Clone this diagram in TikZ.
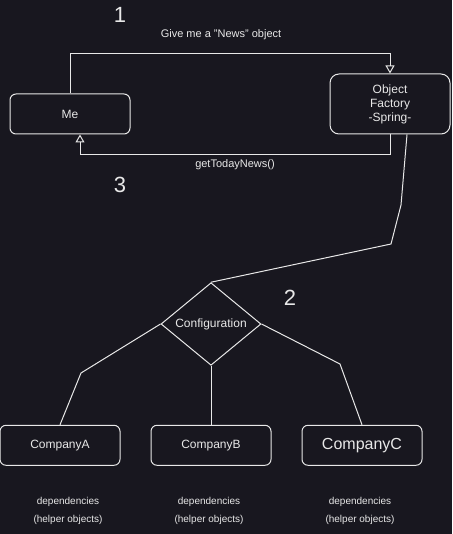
\documentclass[tikz,border=0pt]{standalone}
\usepackage{fontspec}
\setmainfont{Liberation Sans}
\usetikzlibrary{arrows.meta,positioning,shapes.geometric,calc}
\definecolor{bgcolor}{RGB}{24,23,31}
\definecolor{fgcolor}{RGB}{232,232,232}
\def \companyGap {30pt}
\def \configDrop {59pt}
\def \depsDrop {31pt}
\def \depsShift {8pt}
\tikzset{
	box/.style= {draw=fgcolor, line width=1pt, rectangle, rounded corners=6pt, align=center, minimum width=120pt, minimum height=40pt, text=fgcolor, font=\fontsize{12}{14}\selectfont},
	factorybox/.style= {box, rounded corners=9pt, minimum height=60pt},
	choice/.style= {draw=fgcolor, line width=1pt, diamond, inner sep=0pt, minimum width=100pt, minimum height=80pt, text=fgcolor, font=\fontsize{12}{14}\selectfont},
	stepnum/.style= {text=fgcolor, inner sep=0pt, font=\fontsize{22}{26}\selectfont},
	msg/.style= {text=fgcolor, inner sep=0pt, font=\fontsize{11}{13}\selectfont},
	deps/.style= {msg, align=center, font=\fontsize{10}{18}\selectfont},
	link/.style= {draw=fgcolor, line width=1pt},
	call/.style= {link, -{Triangle[open, length=8pt, width=9pt]}}
}
\begin{document}
\begin{tikzpicture}[x=1pt, y=-1pt]
	\path [use as bounding box, fill=bgcolor] (0,0) rectangle (452,534);

%%%%%%%%%%%%%%%%%%%%% Nodes %%%%%%%%%%%%%%%%%%%%%
	\node [box] (Me) at (70,114) {Me};
	\node [factorybox] (Factory) at (390,104) {Object\\Factory\\-Spring-};

	\node [choice] (Config) at (211,324) {Configuration};

	\node [box, below =\configDrop of Config] (CompanyB) {CompanyB};
	\node [box, left =\companyGap of CompanyB] (CompanyA) {CompanyA};
	\node [box, right =\companyGap of CompanyB, font=\fontsize{16}{18}\selectfont] (CompanyC) {CompanyC};

	\node [deps, below =\depsDrop of CompanyA, xshift=\depsShift] (DepsA) {dependencies\\(helper objects)};
	\node [deps, below =\depsDrop of CompanyB, xshift=-2pt] (DepsB) {dependencies\\(helper objects)};
	\node [deps, below =\depsDrop of CompanyC, xshift=-2pt] (DepsC) {dependencies\\(helper objects)};

	\node [stepnum] (One) at (120,15) {1};
	\node [msg] (AskText) at (221,35) {Give me a "News" object};
	\node [msg] (ReturnText) at (235,165) {getTodayNews()};
	\node [stepnum] (Three) at (120,185) {3};
	\node [stepnum] (Two) at (290,298) {2};

%%%%%%%%%%%%%%%%%%%%% Links %%%%%%%%%%%%%%%%%%%%%
	\draw [call] (Me.north) -- ++(0,-40) -| (Factory.north);
	\draw [call] (Factory.south) -- ++(0,20) -| ($(Me.south)+(10,0)$);

	\draw [link] ($(Factory.south)+(17,0)$) -- (401,205) -- (391,244) -- (Config.north);
	\draw [link] (Config.west) -- (81,373) -- (CompanyA.north);
	\draw [link] (Config.south) -- (CompanyB.north);
	\draw [link] (Config.east) -- (340,364) -- (CompanyC.north);

\end{tikzpicture}
\end{document}
